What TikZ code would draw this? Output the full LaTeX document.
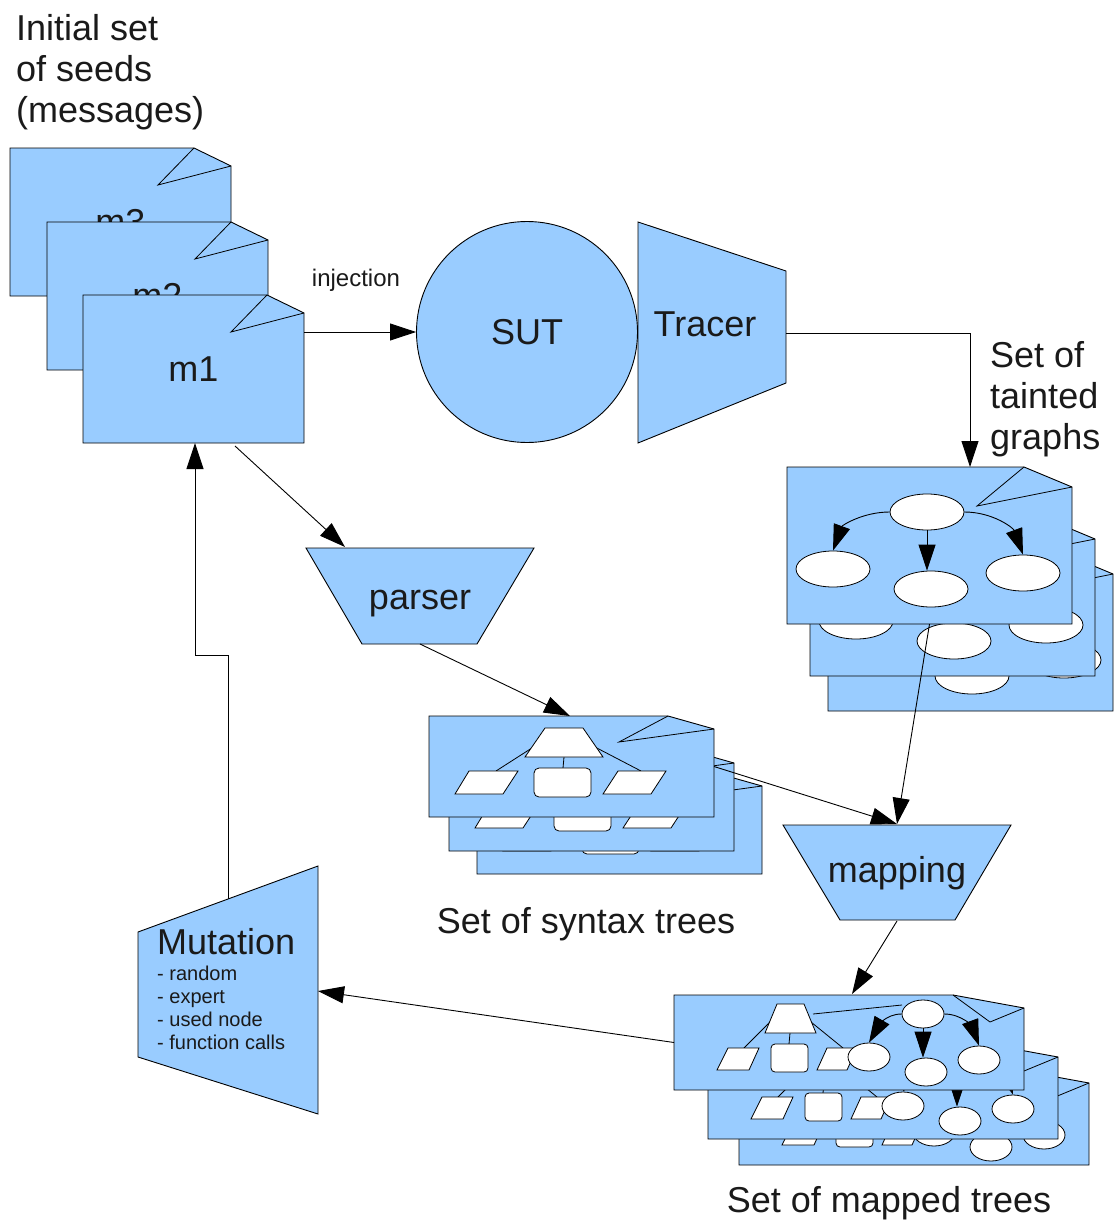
\documentclass[tikz,border=0pt]{standalone}
\usepackage{fontspec}
\setmainfont{Liberation Sans}
\usetikzlibrary{arrows.meta,shapes.geometric}
\definecolor{docblue}{RGB}{153,204,255}
\definecolor{inkgray}{RGB}{26,26,26}
\tikzset{
  shapefill/.style={fill=docblue, draw=black, line width=0.9pt, line join=miter},
  whiteshape/.style={fill=white, draw=black, line width=0.8pt},
  plainline/.style={draw=black, line width=0.8pt},
  conn/.style={draw=black, line width=0.9pt, -{Triangle[length=26pt,width=17pt]}},
  bigtext/.style={font=\fontsize{36}{41}\selectfont, text=inkgray, inner sep=0pt},
  midtext/.style={font=\fontsize{24}{28}\selectfont, text=inkgray, inner sep=0pt},
  smalltext/.style={font=\fontsize{20}{23}\selectfont, text=inkgray, inner sep=0pt},
  anchorbox/.style={inner sep=0pt, outer sep=0pt, anchor=north west},
  ellnode/.style={ellipse, fill=white, draw=black, line width=0.8pt, inner sep=0pt},
}
% message document: x, y, name, label
\newcommand\msgdoc[4]{%
  \begin{scope}[shift={(#1,#2)}]
    \path[shapefill] (0,0) -- (184,0) -- (221,18) -- (221,148) -- (0,148) -- cycle;
    \draw[plainline] (184,0) -- (148,37) -- (221,18);
    \node[anchorbox, minimum width=221pt, minimum height=148pt] (#3) at (0,0) {};
    \node[bigtext] (#3-label) at (110.5,74) {#4};
  \end{scope}}
% tainted graph document: x, y, name
\newcommand\graphdoc[3]{%
  \begin{scope}[shift={(#1,#2)}]
    \path[shapefill] (0,0) -- (237,0) -- (285,20) -- (285,157) -- (0,157) -- cycle;
    \draw[plainline] (237,0) -- (190,39) -- (285,20);
    \node[anchorbox, minimum width=285pt, minimum height=157pt] (#3) at (0,0) {};
    \node[ellnode, minimum width=74pt, minimum height=36pt] (#3-a) at (140,45) {};
    \node[ellnode, minimum width=74pt, minimum height=36pt] (#3-b) at (46,102) {};
    \node[ellnode, minimum width=74pt, minimum height=36pt] (#3-c) at (144,122) {};
    \node[ellnode, minimum width=74pt, minimum height=36pt] (#3-d) at (236,106) {};
    \draw[conn] (#3-a.west) to[out=180,in=70] (#3-b.north);
    \draw[conn] (#3-a.south) -- (#3-a.south |- #3-c.north);
    \draw[conn] (#3-a.east) to[out=0,in=110] (#3-d.north);
  \end{scope}}
% syntax tree document: x, y, name
\newcommand\syndoc[3]{%
  \begin{scope}[shift={(#1,#2)}]
    \path[shapefill] (0,0) -- (239,0) -- (285,13) -- (285,101) -- (0,101) -- cycle;
    \draw[plainline] (239,0) -- (190,26) -- (285,13);
    \node[anchorbox, minimum width=285pt, minimum height=101pt] (#3) at (0,0) {};
    \draw[plainline] (106,30) -- (67,55);
    \draw[plainline] (135,41) -- (134,52);
    \draw[plainline] (164,30) -- (212,55);
    \path[whiteshape] (116,12) -- (154,12) -- (174,41) -- (96,41) -- cycle;
    \path[whiteshape] (26,78) -- (40,55) -- (89,55) -- (74,78) -- cycle;
    \path[whiteshape, rounded corners=5pt] (105,52) rectangle (162,81);
    \path[whiteshape] (174,78) -- (189,55) -- (237,55) -- (222,78) -- cycle;
  \end{scope}}
% mapped tree document: x, y, name
\newcommand\mapdoc[3]{%
  \begin{scope}[shift={(#1,#2)}]
    \path[shapefill] (0,0) -- (279,0) -- (350,13) -- (350,95) -- (0,95) -- cycle;
    \draw[plainline] (279,0) -- (316,27) -- (350,13);
    \node[anchorbox, minimum width=350pt, minimum height=95pt] (#3) at (0,0) {};
    \draw[plainline] (96,27) -- (70,53);
    \draw[plainline] (116,38) -- (115,49);
    \draw[plainline] (137,27) -- (169,53);
    \draw[plainline] (139,19) -- (228,10);
    \path[whiteshape] (103,9) -- (130,9) -- (142,38) -- (91,38) -- cycle;
    \path[whiteshape] (43,75) -- (54,53) -- (85,53) -- (75,75) -- cycle;
    \path[whiteshape, rounded corners=4pt] (97,49) rectangle (134,77);
    \path[whiteshape] (143,75) -- (153,53) -- (183,53) -- (173,75) -- cycle;
    \node[ellnode, minimum width=42pt, minimum height=28pt] (#3-a) at (249,19) {};
    \node[ellnode, minimum width=42pt, minimum height=28pt] (#3-b) at (195,62) {};
    \node[ellnode, minimum width=42pt, minimum height=28pt] (#3-c) at (252,77) {};
    \node[ellnode, minimum width=42pt, minimum height=28pt] (#3-d) at (305,65) {};
    \draw[conn] (#3-a.west) to[out=180,in=60] (#3-b.north);
    \draw[conn] (#3-a.south) -- (#3-a.south |- #3-c.north);
    \draw[conn] (#3-a.east) to[out=0,in=110] (#3-d.north);
  \end{scope}}
\begin{document}
\begin{tikzpicture}[x=1pt, y=-1pt]
  \useasboundingbox (0,0) rectangle (1113,1220);
  \fill[white] (0,0) rectangle (1113,1220);

  % seeds
  \node[bigtext, anchor=north west, align=left] (seedlabel) at (16,14)
    {Initial set\\of seeds\\(messages)};
  \msgdoc{10}{148}{m3}{m3}
  \msgdoc{47}{222}{m2}{m2}
  \msgdoc{83}{295}{m1}{m1}
  \coordinate (m1-out) at (235,446);
  \coordinate (m1-in) at (195,443);

  % SUT and tracer
  \node[circle, shapefill, bigtext, minimum size=221pt] (sut) at (527,332) {SUT};
  \path[shapefill] (638,222) -- (786,271) -- (786,383) -- (638,443) -- cycle;
  \node[bigtext] (tracer) at (705,324) {Tracer};
  \coordinate (tracer-out) at (786,333);
  \node[midtext] (injlabel) at (356,280) {injection};

  % tainted graphs
  \node[bigtext, anchor=north west, align=left] (graphlabel) at (990,341)
    {Set of\\tainted\\graphs};
  \graphdoc{828}{554}{g3}
  \graphdoc{810}{519}{g2}
  \graphdoc{787}{467}{g1}
  \coordinate (g1-in) at (970,467);

  % parser
  \path[shapefill] (306,548) -- (534,548) -- (477,644) -- (362,644) -- cycle;
  \node[bigtext, anchor=base] (parser) at (420,609) {parser};
  \coordinate (parser-in) at (345,547);
  \coordinate (parser-out) at (420,644);

  % syntax trees
  \syndoc{477}{773}{s3}
  \syndoc{449}{750}{s2}
  \syndoc{429}{716}{s1}
  \coordinate (s1-in) at (570,716);
  \node[bigtext, anchor=base] (synlabel) at (586,933) {Set of syntax trees};

  % mapping
  \path[shapefill] (783,825) -- (1011,825) -- (955,920) -- (840,920) -- cycle;
  \node[bigtext, anchor=base] (mapping) at (897,882) {mapping};
  \coordinate (map-in) at (897,824);
  \coordinate (map-out) at (897,921);

  % mapped trees
  \mapdoc{739}{1070}{t3}
  \mapdoc{708}{1044}{t2}
  \mapdoc{674}{995}{t1}
  \coordinate (t1-in) at (852,994);
  \node[bigtext, anchor=base] (maplabel) at (889,1212) {Set of mapped trees};

  % mutation
  \path[shapefill] (138,932) -- (318,866) -- (318,1114) -- (138,1057) -- cycle;
  \node[bigtext, anchor=base west] (mutation) at (157,954) {Mutation};
  \node[smalltext, anchor=north west, align=left] (mutlist) at (157,966)
    {- random\\- expert\\- used node\\- function calls};
  \coordinate (mut-in) at (318,991);
  \coordinate (mut-out) at (228,899);
  \coordinate (loopbend) at (195,655);

  % connectors
  \draw[conn] (sut.west -| m1.east) -- (sut.west);
  \draw[conn] (tracer-out) -| (g1-in);
  \draw[conn] (m1-out) -- (parser-in);
  \draw[conn] (parser-out) -- (s1-in);
  \draw[conn] (s1.east) -- (map-in);
  \draw[conn] (g1.south) -- (map-in);
  \draw[conn] (map-out) -- (t1-in);
  \draw[conn] (t1.west) -- (mut-in);
  \draw[conn] (mut-out) |- (loopbend) -- (m1-in);
\end{tikzpicture}
\end{document}
